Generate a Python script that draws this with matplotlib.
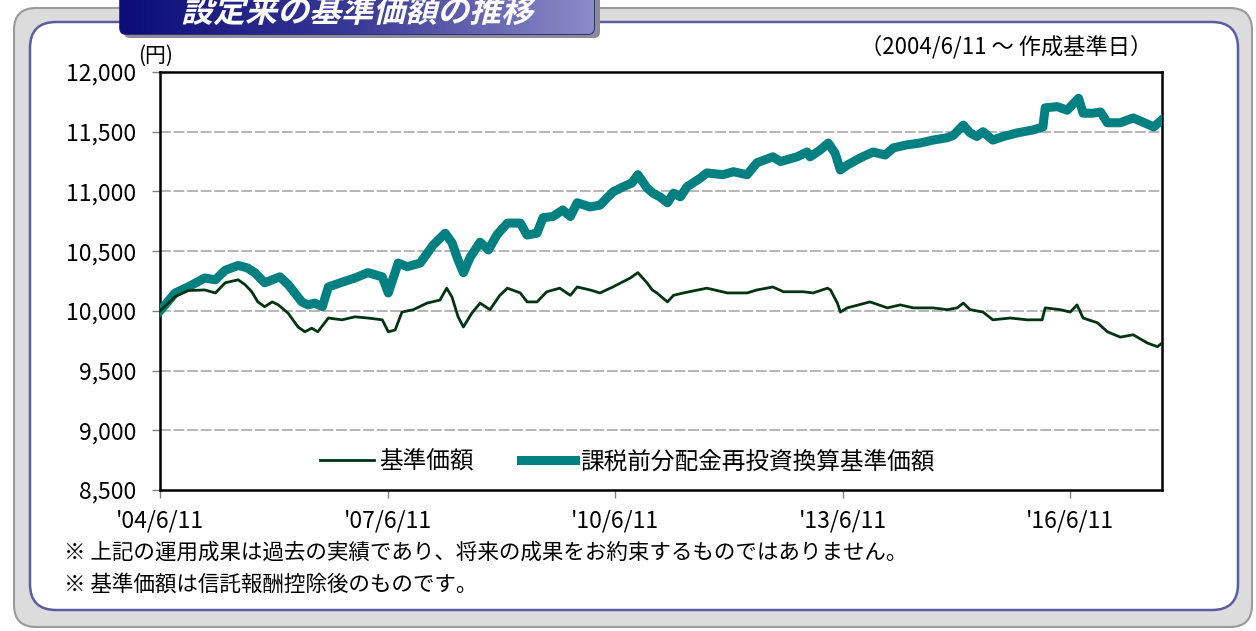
import numpy as np
import matplotlib
matplotlib.use("Agg")
import matplotlib.pyplot as plt
from matplotlib.patches import FancyBboxPatch, PathPatch
from matplotlib.textpath import TextPath
from matplotlib.font_manager import FontProperties
from matplotlib.transforms import Affine2D
from matplotlib.colors import LinearSegmentedColormap

plt.rcParams['font.family'] = ['Noto Sans CJK JP', 'DejaVu Sans']

# データ (年: 2004/6/11 からの経過年数)
TITLE = "設定来の基準価額の推移"
PERIOD = "（2004/6/11 ～ 作成基準日）"
UNIT = "(円)"
LABEL_NAV = "基準価額"
LABEL_REINV = "課税前分配金再投資換算基準価額"
NOTES = ["※ 上記の運用成果は過去の実績であり、将来の成果をお約束するものではありません。",
         "※ 基準価額は信託報酬控除後のものです。"]

x_ticks = [0, 3, 6, 9, 12]
x_ticklabels = ["'04/6/11", "'07/6/11", "'10/6/11", "'13/6/11", "'16/6/11"]
y_ticks = [8500, 9000, 9500, 10000, 10500, 11000, 11500, 12000]

reinv_t = [0.00, 0.20, 0.37, 0.59, 0.73, 0.86, 1.03, 1.15, 1.25, 1.38, 1.48, 1.58, 1.69, 1.87,
           1.95, 2.04, 2.14, 2.22, 2.40, 2.57, 2.74, 2.93, 3.01, 3.14, 3.26, 3.43, 3.60, 3.76,
           3.85, 3.93, 4.00, 4.09, 4.22, 4.33, 4.44, 4.58, 4.75, 4.84, 4.97, 5.05, 5.18, 5.31,
           5.41, 5.50, 5.67, 5.80, 5.97, 6.11, 6.22, 6.30, 6.42, 6.50, 6.59, 6.69, 6.77, 6.86,
           6.95, 7.12, 7.21, 7.42, 7.56, 7.74, 7.87, 8.08, 8.18, 8.40, 8.53, 8.57, 8.70, 8.81,
           8.90, 8.97, 9.06, 9.23, 9.40, 9.56, 9.67, 9.85, 10.02, 10.19, 10.38, 10.46, 10.59,
           10.68, 10.77, 10.85, 10.98, 11.12, 11.30, 11.51, 11.64, 11.67, 11.83, 11.96, 12.11,
           12.17, 12.30, 12.40, 12.49, 12.66, 12.83, 12.96, 13.10, 13.21]
reinv_v = [10000, 10150, 10200, 10275, 10260, 10340, 10380, 10360, 10320, 10235, 10260, 10285,
           10220, 10075, 10050, 10065, 10035, 10200, 10240, 10275, 10320, 10285, 10150, 10400,
           10370, 10400, 10550, 10650, 10570, 10425, 10320, 10450, 10575, 10510, 10635, 10735,
           10735, 10635, 10650, 10780, 10790, 10845, 10790, 10905, 10870, 10885, 10995, 11040,
           11070, 11140, 11030, 10985, 10955, 10905, 10985, 10955, 11040, 11110, 11155, 11140,
           11165, 11140, 11240, 11290, 11250, 11290, 11330, 11290, 11345, 11405, 11320, 11180,
           11220, 11280, 11330, 11305, 11365, 11390, 11405, 11430, 11450, 11470, 11555, 11490,
           11460, 11500, 11430, 11460, 11490, 11515, 11540, 11700, 11710, 11680, 11780, 11655,
           11655, 11665, 11575, 11575, 11615, 11580, 11540, 11600]

nav_t = [0.00, 0.20, 0.37, 0.59, 0.73, 0.86, 1.03, 1.12, 1.21, 1.29, 1.38, 1.48, 1.56, 1.69,
         1.82, 1.91, 2.00, 2.08, 2.22, 2.40, 2.57, 2.74, 2.93, 3.01, 3.10, 3.19, 3.34, 3.52,
         3.69, 3.78, 3.85, 3.93, 4.00, 4.11, 4.22, 4.35, 4.48, 4.58, 4.75, 4.84, 4.97, 5.10,
         5.27, 5.41, 5.50, 5.67, 5.80, 5.97, 6.20, 6.30, 6.42, 6.49, 6.55, 6.69, 6.77, 6.90,
         7.21, 7.48, 7.74, 7.87, 8.08, 8.22, 8.48, 8.61, 8.80, 8.84, 8.93, 8.97, 9.06, 9.36,
         9.59, 9.76, 9.93, 10.19, 10.38, 10.51, 10.59, 10.68, 10.85, 10.98, 11.21, 11.43,
         11.63, 11.67, 11.87, 12.00, 12.09, 12.17, 12.36, 12.49, 12.66, 12.83, 13.02, 13.15,
         13.21]
nav_v = [10000, 10120, 10170, 10175, 10150, 10235, 10260, 10220, 10160, 10075, 10035, 10075,
         10050, 9980, 9865, 9825, 9855, 9825, 9940, 9925, 9950, 9940, 9925, 9825, 9840, 9990,
         10010, 10065, 10090, 10190, 10115, 9950, 9865, 9980, 10065, 10010, 10130, 10190,
         10150, 10075, 10075, 10160, 10190, 10130, 10200, 10175, 10150, 10200, 10275, 10320,
         10235, 10175, 10150, 10075, 10130, 10150, 10190, 10150, 10150, 10175, 10200, 10160,
         10160, 10150, 10190, 10175, 10065, 9990, 10025, 10075, 10025, 10050, 10025, 10025,
         10010, 10025, 10065, 10010, 9990, 9925, 9940, 9925, 9925, 10025, 10010, 9990, 10050,
         9940, 9900, 9825, 9780, 9800, 9730, 9700, 9730]

W, H = 1256, 631
fig = plt.figure(figsize=(W / 100, H / 100), dpi=100, facecolor='white')

# 背景 (ピクセル座標)
bg = fig.add_axes([0, 0, 1, 1], zorder=0)
bg.set_axis_off()

bg.add_patch(FancyBboxPatch((14, 8), 1238, 619, boxstyle="round,pad=0,rounding_size=22",
                            fc='#dcdcdc', ec='#9a9a9a', lw=1.5))
bg.add_patch(FancyBboxPatch((30, 22), 1208, 588, boxstyle="round,pad=0,rounding_size=26",
                            fc='white', ec='#5c5ca0', lw=1.8))

# タイトルタブ
bg.add_patch(FancyBboxPatch((124, -14), 476, 52, boxstyle="round,pad=0,rounding_size=6",
                            fc='#8a8a9a', ec='none'))
tab = FancyBboxPatch((120, -18), 474, 52, boxstyle="round,pad=0,rounding_size=6",
                     fc='none', ec='#20206a', lw=1.2)
bg.add_patch(tab)
cmap = LinearSegmentedColormap.from_list('tab', ['#0c0c7a', '#3a3a96', '#8c8cc8'])
grad = bg.imshow(np.linspace(0, 1, 256)[None, :], cmap=cmap, aspect='auto',
                 extent=(120, 594, 34, -18), zorder=1)
grad.set_clip_path(tab)

fp = FontProperties(family='Noto Sans CJK JP', weight='bold')
tp = TextPath((0, 0), TITLE, size=32, prop=fp)
ext = tp.get_extents()
tr = (Affine2D().translate(-ext.x0 - ext.width / 2, 0).skew_deg(14, 0)
      .scale(1, -1).translate(357, 22) + bg.transData)
bg.add_patch(PathPatch(tp, transform=tr, fc='white', ec='none', zorder=3))

bg.set_xlim(0, W)
bg.set_ylim(H, 0)

# メインチャート
ax = fig.add_axes([160 / W, 1 - 490 / H, 1002 / W, 418 / H], zorder=2)
ax.set_facecolor('white')

ax.plot(reinv_t, reinv_v, color='#008080', lw=6.5, solid_joinstyle='round',
        label=LABEL_REINV, zorder=3)
ax.plot(nav_t, nav_v, color='#003310', lw=2.0, label=LABEL_NAV, zorder=4)

ax.set_xlim(0, 13.21)
ax.set_ylim(8500, 12000)
ax.set_yticks(y_ticks)
ax.set_yticklabels([f"{v:,}" for v in y_ticks])
ax.set_xticks(x_ticks)
ax.set_xticklabels(x_ticklabels)
ax.tick_params(axis='both', direction='out', length=6, width=1, color='#808080',
               labelsize=16.5, labelcolor='black')
ax.tick_params(axis='y', pad=11)
ax.tick_params(axis='x', pad=8)

for v in y_ticks[1:-1]:
    ax.axhline(v, color='#b0b0b0', lw=1.3, ls=(0, (6, 1.5)), zorder=1)

for s in ax.spines.values():
    s.set_color('black')
    s.set_linewidth(1.8)

handles, labels = ax.get_legend_handles_labels()
ax.legend(handles[::-1], labels[::-1], loc='center', bbox_to_anchor=(0.466, 0.067), ncol=2,
          frameon=False, fontsize=17, handlelength=2.3, handletextpad=0.2,
          columnspacing=2.0)

fig.text(138 / W, 1 - 56 / H, UNIT, fontsize=15, ha='left', va='center')
fig.text(1152 / W, 1 - 47 / H, PERIOD, fontsize=16, ha='right', va='center')
fig.text(64 / W, 1 - 553 / H, NOTES[0], fontsize=15.5, ha='left', va='center')
fig.text(64 / W, 1 - 585 / H, NOTES[1], fontsize=15.5, ha='left', va='center')

fig.savefig("out.png", dpi=100, facecolor='white')
